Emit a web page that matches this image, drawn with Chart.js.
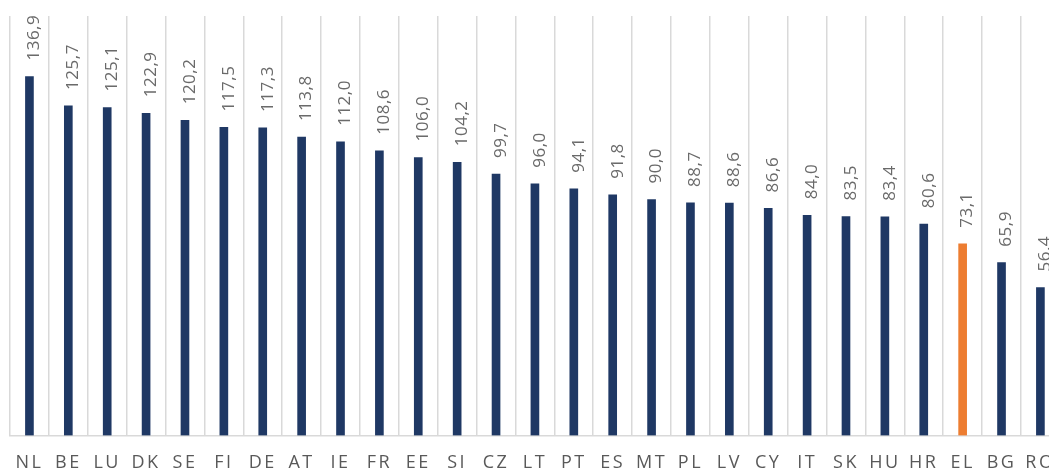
<!DOCTYPE html>
<html>
<head>
<meta charset="utf-8">
<script src="https://cdn.jsdelivr.net/npm/chart.js@4/dist/chart.umd.min.js"></script>
<style>
  html, body { margin: 0; padding: 0; background: #fff; overflow: hidden; }
  /* the original picture is cropped on the right and bottom */
  #frame { width: 1049px; height: 473px; overflow: hidden; position: relative; }
  #wrap { position: absolute; left: 0; top: 0; width: 1070px; height: 493px; }
</style>
</head>
<body>
<div id="frame"><div id="wrap"><canvas id="chart" width="1070" height="493"></canvas></div></div>
<script>
const countries = ['NL', 'BE', 'LU', 'DK', 'SE', 'FI', 'DE', 'AT', 'IE', 'FR', 'EE', 'SI', 'CZ', 'LT',
    'PT', 'ES', 'MT', 'PL', 'LV', 'CY', 'IT', 'SK', 'HU', 'HR', 'EL', 'BG', 'RO'];
const values = [136.9, 125.7, 125.1, 122.9, 120.2, 117.5, 117.3, 113.8, 112.0, 108.6, 106.0, 104.2, 99.7, 96.0,
    94.1, 91.8, 90.0, 88.7, 88.6, 86.6, 84.0, 83.5, 83.4, 80.6, 73.1, 65.9, 56.4];
const highlight = 'EL';

const navy = '#1f3864';
const orange = '#ed7d31';
const textGray = '#595959';

const barColors = countries.map(c => c === highlight ? orange : navy);

// Rotated value labels above each bar, Excel style (decimal comma)
const valueLabels = {
    id: 'valueLabels',
    afterDatasetsDraw(chart) {
        const ctx = chart.ctx;
        const meta = chart.getDatasetMeta(0);
        ctx.save();
        ctx.letterSpacing = '0.5px';
        ctx.font = '17px "Open Sans"';
        ctx.fillStyle = '#6a6a6a';
        ctx.textAlign = 'left';
        ctx.textBaseline = 'middle';
        meta.data.forEach((bar, i) => {
            ctx.save();
            ctx.translate(bar.x + 5, bar.y - 16);
            ctx.rotate(-Math.PI / 2);
            ctx.fillText(values[i].toFixed(1).replace('.', ','), 0, 0);
            ctx.restore();
        });
        ctx.restore();
    }
};

// wider tracking on the axis labels, like the original
const spacing = {
    id: 'spacing',
    beforeDraw(chart) { chart.ctx.letterSpacing = '2.5px'; }
};

new Chart(document.getElementById('chart'), {
    type: 'bar',
    data: {
        labels: countries,
        datasets: [{
            data: values,
            backgroundColor: barColors,
            barThickness: 8
        }]
    },
    options: {
        responsive: false,
        animation: false,
        layout: { padding: { left: 10, top: 16, right: 2, bottom: 2 } },
        plugins: {
            legend: { display: false },
            tooltip: { enabled: false }
        },
        scales: {
            x: {
                grid: {
                    display: true,
                    offset: true,
                    color: '#d9d9d9',
                    lineWidth: 1.5,
                    drawTicks: false
                },
                border: { display: true, color: '#d9d9d9', width: 1.5 },
                ticks: {
                    color: textGray,
                    font: { family: 'Open Sans', size: 18 },
                    padding: 17,
                    maxRotation: 0,
                    autoSkip: false
                }
            },
            y: {
                display: false,
                min: 0,
                max: 160
            }
        }
    },
    plugins: [spacing, valueLabels]
});
</script>
</body>
</html>
